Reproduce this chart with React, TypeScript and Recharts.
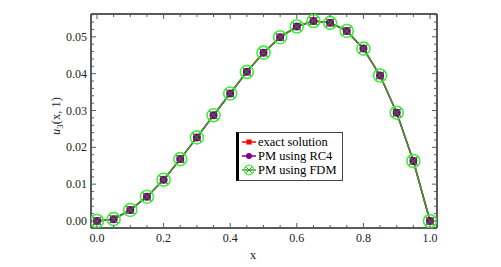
import React from 'react';
import { LineChart, Line, XAxis, YAxis, Legend, Label } from 'recharts';

// ── Data ──────────────────────────────────────────────────────────────────────

const xValues = [0, 0.05, 0.1, 0.15, 0.2, 0.25, 0.3, 0.35, 0.4, 0.45, 0.5, 0.55, 0.6, 0.65, 0.7, 0.75, 0.8, 0.85, 0.9, 0.95, 1.0];

const exactSolution = [0, 0.0005, 0.0030, 0.0066, 0.0112, 0.0168, 0.0227, 0.0287, 0.0346, 0.0405, 0.0457, 0.0499, 0.0528, 0.0543, 0.0538, 0.0516, 0.0468, 0.0395, 0.0294, 0.0163, 0];
const pmRC4 = [0, 0.0005, 0.0030, 0.0066, 0.0112, 0.0168, 0.0227, 0.0287, 0.0346, 0.0405, 0.0457, 0.0499, 0.0528, 0.0543, 0.0538, 0.0516, 0.0468, 0.0395, 0.0294, 0.0163, 0];
const pmFDM = [0, 0.0005, 0.0030, 0.0066, 0.0112, 0.0168, 0.0227, 0.0287, 0.0346, 0.0405, 0.0457, 0.0499, 0.0528, 0.0543, 0.0538, 0.0516, 0.0468, 0.0395, 0.0294, 0.0163, 0];

const xTicks = [0, 0.05, 0.1, 0.15, 0.2, 0.25, 0.3, 0.35, 0.4, 0.45, 0.5, 0.55, 0.6, 0.65, 0.7, 0.75, 0.8, 0.85, 0.9, 0.95, 1.0];
const xMajor = [0, 0.2, 0.4, 0.6, 0.8, 1.0];
const yTicks = [0, 0.002, 0.004, 0.006, 0.008, 0.01, 0.012, 0.014, 0.016, 0.018, 0.02, 0.022, 0.024, 0.026, 0.028, 0.03, 0.032, 0.034, 0.036, 0.038, 0.04, 0.042, 0.044, 0.046, 0.048, 0.05, 0.052, 0.054, 0.056];
const yMajor = [0, 0.01, 0.02, 0.03, 0.04, 0.05];

const seriesNames = ['exact solution', 'PM using RC4', 'PM using FDM'];

const data = xValues.map((x, i) => ({ x, exact: exactSolution[i], rc4: pmRC4[i], fdm: pmFDM[i] }));

// ── Layout constants ──────────────────────────────────────────────────────────

const W = 501, H = 267;
const PL = 91, PR = 437, PT = 14, PB = 228;
const FRAME = '#5a5a5a';
const SERIF = "'Times New Roman', 'Liberation Serif', 'DejaVu Serif', serif";
const RED = '#ff0000', PURPLE = '#800080', GREEN = '#3a9e2c', LIME = '#3cf03c', XCOL = '#2e7a2e';

const near = (v: number, list: number[]) => list.some(m => Math.abs(m - v) < 1e-9);

// ── Markers ──────────────────────────────────────────────────────────────────

function SquareDot({ cx, cy }: any) {
  if (cx == null || cy == null) return null;
  return <rect x={cx - 3.4} y={cy - 3.4} width={6.8} height={6.8} fill={RED} />;
}
function CircleDot({ cx, cy }: any) {
  if (cx == null || cy == null) return null;
  return <circle cx={cx} cy={cy} r={4} fill={PURPLE} />;
}
function CrossCircleDot({ cx, cy }: any) {
  if (cx == null || cy == null) return null;
  const d = 4.4;
  return (
    <g>
      <line x1={cx - d} y1={cy - d} x2={cx + d} y2={cy + d} stroke={XCOL} strokeWidth={1.1} />
      <line x1={cx - d} y1={cy + d} x2={cx + d} y2={cy - d} stroke={XCOL} strokeWidth={1.1} />
      <circle cx={cx} cy={cy} r={6.5} fill="none" stroke={LIME} strokeWidth={1.6} />
    </g>
  );
}

// ── Ticks (inward, Mathematica frame style) ──────────────────────────────────

function BottomTick({ x, payload }: any) {
  const v = payload.value as number;
  const major = near(v, xMajor);
  return (
    <g>
      <line x1={x} x2={x} y1={PB} y2={PB - (major ? 5 : 3)} stroke={FRAME} strokeWidth={1} />
      {major && (
        <text x={x} y={PB + 14} textAnchor="middle" style={{ fontFamily: SERIF, fontSize: 12 }} fill="#222">
          {v.toFixed(1)}
        </text>
      )}
    </g>
  );
}
function TopTick({ x, payload }: any) {
  const major = near(payload.value, xMajor);
  return <line x1={x} x2={x} y1={PT} y2={PT + (major ? 5 : 3)} stroke={FRAME} strokeWidth={1} />;
}
function LeftTick({ y, payload }: any) {
  const v = payload.value as number;
  const major = near(v, yMajor);
  return (
    <g>
      <line x1={PL} x2={PL + (major ? 5 : 3)} y1={y} y2={y} stroke={FRAME} strokeWidth={1} />
      {major && (
        <text x={PL - 4} y={y + 4} textAnchor="end" style={{ fontFamily: SERIF, fontSize: 12 }} fill="#222">
          {v.toFixed(2)}
        </text>
      )}
    </g>
  );
}
function RightTick({ y, payload }: any) {
  const major = near(payload.value, yMajor);
  return <line x1={PR} x2={PR - (major ? 5 : 3)} y1={y} y2={y} stroke={FRAME} strokeWidth={1} />;
}

// ── Legend ───────────────────────────────────────────────────────────────────

const legendIcons = [SquareDot, CircleDot, CrossCircleDot];
const legendColors = [RED, PURPLE, GREEN];

function LegendBox() {
  return (
    <div style={{
      background: '#fff', border: '1px solid #444', borderLeft: '3px solid #000',
      padding: '2px 5px 3px 2px', fontFamily: SERIF, fontSize: 12.5, lineHeight: '14px', color: '#000',
    }}>
      {seriesNames.map((n, i) => {
        const Icon = legendIcons[i];
        return (
          <div key={n} style={{ display: 'flex', alignItems: 'center', whiteSpace: 'nowrap' }}>
            <svg width={16} height={14} style={{ marginRight: 1 }}>
              <line x1={1} x2={15} y1={7} y2={7} stroke={legendColors[i]} strokeWidth={1.5} />
              <g transform="translate(8,7) scale(0.75) translate(-8,-7)">
                <Icon cx={8} cy={7} />
              </g>
            </svg>
            <span>{n}</span>
          </div>
        );
      })}
    </div>
  );
}

// ── Chart ────────────────────────────────────────────────────────────────────

export default function App() {
  return (
    <div style={{ position: 'absolute', left: 0, top: 0, width: W, height: H, background: '#fff' }}>
      <LineChart width={W} height={H} data={data}
        margin={{ top: 0, right: 0, bottom: 0, left: 0 }}>
        <XAxis xAxisId="b" dataKey="x" type="number" domain={[-0.018, 1.021]} ticks={xTicks}
          orientation="bottom" height={H - PB} interval={0} allowDataOverflow
          axisLine={{ stroke: FRAME, strokeWidth: 2 }} tickLine={false} tick={<BottomTick />}>
          <Label content={() => (
            <text x={253} y={259} textAnchor="middle" style={{ fontFamily: SERIF, fontSize: 13 }} fill="#222">x</text>
          )} />
        </XAxis>
        <XAxis xAxisId="t" dataKey="x" type="number" domain={[-0.018, 1.021]} ticks={xTicks}
          orientation="top" height={PT} interval={0} allowDataOverflow
          axisLine={{ stroke: FRAME, strokeWidth: 2 }} tickLine={false} tick={<TopTick />} />
        <YAxis yAxisId="l" type="number" domain={[-0.0019, 0.0562]} ticks={yTicks} width={PL}
          interval={0} allowDataOverflow
          axisLine={{ stroke: FRAME, strokeWidth: 2 }} tickLine={false} tick={<LeftTick />}>
          <Label content={() => (
            <text x={60} y={116} transform="rotate(-90, 60, 116)" textAnchor="middle"
              style={{ fontFamily: SERIF, fontSize: 12.5 }} fill="#222">
              <tspan fontStyle="italic">u</tspan>
              <tspan fontSize={9} dy={3}>3</tspan>
              <tspan dy={-3}>(x, 1)</tspan>
            </text>
          )} />
        </YAxis>
        <YAxis yAxisId="r" type="number" orientation="right" domain={[-0.0019, 0.0562]} ticks={yTicks}
          width={W - PR} interval={0} allowDataOverflow
          axisLine={{ stroke: FRAME, strokeWidth: 2 }} tickLine={false} tick={<RightTick />} />

        <Legend layout="horizontal" verticalAlign="middle" align="center"
          wrapperStyle={{ left: 236, top: 132, width: 'auto' }} content={() => <LegendBox />} />

        <Line xAxisId="b" yAxisId="l" dataKey="exact" name={seriesNames[0]} stroke={RED} strokeWidth={1.5}
          dot={<SquareDot />} activeDot={false} isAnimationActive={false} />
        <Line xAxisId="b" yAxisId="l" dataKey="rc4" name={seriesNames[1]} stroke={PURPLE} strokeWidth={1.5}
          dot={<CircleDot />} activeDot={false} isAnimationActive={false} />
        <Line xAxisId="b" yAxisId="l" dataKey="fdm" name={seriesNames[2]} stroke={GREEN} strokeWidth={1.5}
          dot={<CrossCircleDot />} activeDot={false} isAnimationActive={false} />
      </LineChart>
    </div>
  );
}
